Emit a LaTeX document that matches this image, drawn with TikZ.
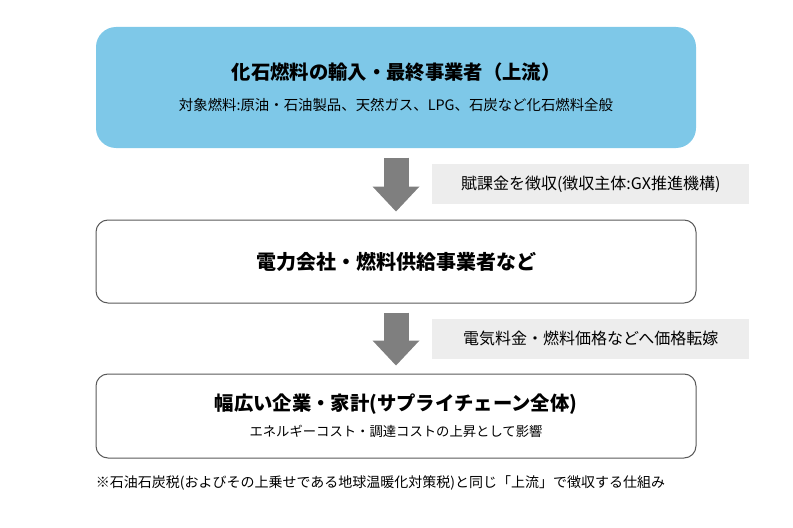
\documentclass[tikz,border=0pt]{standalone}
\usepackage{fontspec}
\setmainfont{Noto Sans CJK JP}
\usetikzlibrary{positioning,calc,arrows.meta}
\definecolor{csource}{RGB}{126,200,232}
\definecolor{ctag}{RGB}{237,237,237}
\definecolor{cframe}{RGB}{89,89,89}
\definecolor{cflow}{RGB}{127,127,127}

\begin{document}
\begin{tikzpicture}[
	stage/.style={rectangle,rounded corners=9pt,draw=cframe,line width=0.75pt,minimum width=450pt,inner sep=0pt,align=center,font=\fontsize{10.5pt}{12pt}\selectfont},
	source/.style={stage,draw=none,fill=csource,rounded corners=15pt},
	tagbox/.style={rectangle,fill=ctag,minimum width=237.75pt,minimum height=30pt,inner sep=0pt,font=\fontsize{12pt}{14pt}\selectfont},
	flow/.style={draw=cflow,line width=18.75pt,-{Triangle[width=35.25pt,length=18.75pt,line width=0pt]},shorten <=6.75pt,shorten >=6pt},
	note/.style={inner sep=0pt,font=\fontsize{10.5pt}{12pt}\selectfont}]
	\useasboundingbox (0,0) rectangle (594.75pt,-396pt);
	\node[source,minimum height=90.75pt] (a) at (297pt,-65.625pt) {{\fontsize{14.5pt}{17pt}\selectfont\bfseries 化石燃料の輸入・最終事業者（上流）}\\[11pt]{\fontsize{10.8pt}{12pt}\selectfont 対象燃料:原油・石油製品、天然ガス、LPG、石炭など化石燃料全般}};
	\node[stage,minimum height=62.25pt] (b) [below=53.25pt of a] {{\fontsize{15pt}{17pt}\selectfont\bfseries 電力会社・燃料供給事業者など}};
	\node[stage,minimum height=63pt] (c) [below=52.5pt of b] {{\fontsize{14.5pt}{17pt}\selectfont\bfseries 幅広い企業・家計(サプライチェーン全体)}\\[7.5pt]{\fontsize{10pt}{12pt}\selectfont エネルギーコスト・調達コストの上昇として影響}};
	\coordinate (m1) at ($(a.south)!.5!(b.north)$);
	\coordinate (m2) at ($(b.south)!.5!(c.north)$);
	\node[tagbox] (d) [right=27pt of m1] {賦課金を徴収(徴収主体:GX推進機構)};
	\node[tagbox] (e) [right=27pt of m2] {電気料金・燃料価格などへ価格転嫁};
	\node[note,anchor=west] (f) at ([yshift=-18pt]c.south west) {※石油石炭税(およびその上乗せである地球温暖化対策税)と同じ「上流」で徴収する仕組み};
	\path (a) edge[flow] (b);
	\path (b) edge[flow] (c);
\end{tikzpicture}
\end{document}
